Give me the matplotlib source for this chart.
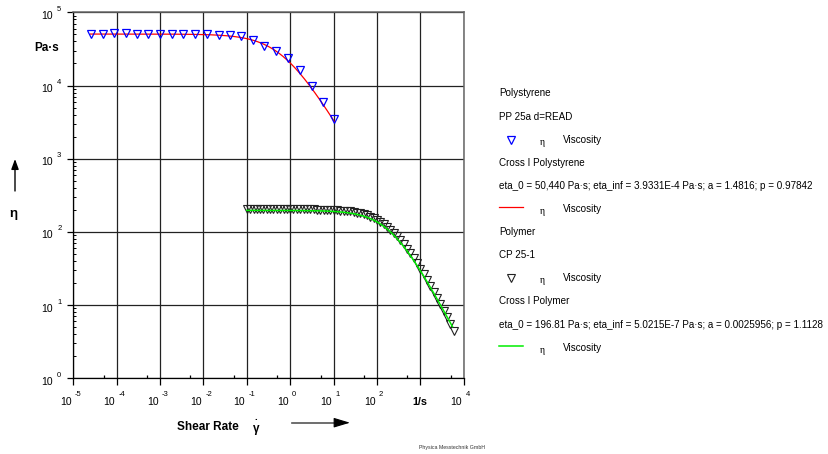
import numpy as np
import matplotlib.pyplot as plt

plt.rcParams['font.family'] = ['Liberation Sans', 'DejaVu Sans']

# Polystyrene, PP 25a (shear rate 1/s, viscosity Pa*s)
ps_rate = [2.51e-5, 4.75e-5, 8.8e-5, 1.64e-4, 2.94e-4, 5.36e-4, 1.01e-3, 1.85e-3,
           3.43e-3, 6.47e-3, 0.0121, 0.0223, 0.0408, 0.0731, 0.136, 0.252, 0.469,
           0.885, 1.67, 3.10, 5.57, 10.5]
ps_eta = [51000, 51000, 52200, 52200, 51000, 51000, 51000, 51000, 51000, 50100,
          50100, 49500, 48500, 47000, 42300, 35000, 29400, 23600, 16300, 9880,
          6030, 3470]

# Polymer, CP 25-1
pm_rate = [0.100, 0.119, 0.143, 0.170, 0.203, 0.242, 0.289, 0.346, 0.412, 0.492,
           0.588, 0.702, 0.838,
           1.00, 1.19, 1.43, 1.70, 2.03, 2.42, 2.89, 3.46, 4.12, 4.92, 5.88, 7.02, 8.38,
           10.0, 11.9, 14.3, 17.0, 20.3, 24.2, 28.9, 34.6, 41.2, 49.2, 58.8, 70.2, 83.8,
           100, 119, 143, 170, 203, 242, 289, 346, 412, 492, 588, 702, 838,
           1000, 1190, 1430, 1700, 2030, 2420, 2890, 3460, 4120, 4920, 5880]
pm_eta = [206, 206, 205, 206, 205, 205, 206, 205, 205, 205, 204, 205, 204,
          204, 204, 204, 204, 203, 203, 203, 203, 202, 201, 201, 200, 199,
          198, 197, 196, 194, 192, 190, 187, 183, 179, 174, 168, 161, 154,
          146, 137, 127, 117, 107, 97, 87, 77, 67.5, 58.8, 50.8, 43.6, 37.2,
          31.5, 26.5, 22.2, 18.5, 15.3, 12.6, 10.3, 8.4, 6.8, 5.5, 4.4]

# Cross I fit results: eta_0, eta_inf, a, p
ps_fit = (50440.0, 3.9331e-4, 1.4816, 0.97842)
pm_fit = (196.81, 5.0215e-7, 0.0025956, 1.1128)

x_exps = list(range(-5, 5))
y_exps = list(range(0, 6))


def cross(rate, eta0, eta_inf, a, p):
    return eta_inf + (eta0 - eta_inf) / (1.0 + a * rate ** p)


def sci(v):
    m, e = f'{v:.4E}'.split('E')
    return f'{m}E{int(e)}'


def fit_text(eta0, eta_inf, a, p):
    return (f'eta_0 = {eta0:,.5g} Pa\u00b7s; eta_inf = {sci(eta_inf)} Pa\u00b7s; '
            f'a = {a:g}; p = {p:g}')


W, H = 829, 454
fig = plt.figure(figsize=(W / 100, H / 100), dpi=100)
ax = fig.add_axes([73.3 / W, 1 - 378.3 / H, 390.4 / W, 366 / H])
ax.set_xscale('log')
ax.set_yscale('log')
ax.set_xlim(1e-5, 1e4)
ax.set_ylim(1, 1e5)

ax.set_xticks([10.0 ** e for e in x_exps])
ax.set_xticks([5 * 10.0 ** e for e in x_exps[:-1]], minor=True)
ax.set_yticks([10.0 ** e for e in y_exps])
ax.set_yticks([k * 10.0 ** e for e in y_exps[:-1] for k in range(2, 10)], minor=True)
ax.tick_params(which='both', labelbottom=False, labelleft=False)
ax.tick_params(axis='x', which='major', direction='out', length=5, width=0.9)
ax.tick_params(axis='x', which='minor', direction='in', length=2.2, width=0.9)
ax.tick_params(axis='y', which='major', direction='out', length=4, width=0.9)
ax.tick_params(axis='y', which='minor', direction='in', length=2.5, width=0.7)
ax.grid(True, which='major', color='#222222', lw=0.9, zorder=1)
ax.set_axisbelow(True)
for side in ('top', 'right'):
    ax.spines[side].set_color('#666666')
    ax.spines[side].set_linewidth(1.1)
for side in ('left', 'bottom'):
    ax.spines[side].set_linewidth(0.9)

# fitted curves and measured points
r = np.logspace(np.log10(ps_rate[0]), np.log10(ps_rate[-1]), 300)
ax.plot(r, cross(r, *ps_fit), color='#ff0000', lw=0.9, zorder=3)
ax.plot(ps_rate, ps_eta, 'v', ms=5.8, mfc='none', mec='#0000ff', mew=0.9, zorder=4)

ax.plot(pm_rate, pm_eta, 'v', ms=5.8, mfc='none', mec='#222222', mew=0.8, zorder=3)
r = np.logspace(np.log10(pm_rate[0]), np.log10(5500), 300)
ax.plot(r, cross(r, *pm_fit), color='#00ee00', lw=1.1, zorder=4)

# decade tick labels, "10" with raised exponent
for e in x_exps:
    if e == 3:
        ax.annotate('1/s', xy=(10.0 ** e, 0), xycoords=('data', 'axes fraction'),
                    xytext=(0, -23.5), textcoords='offset pixels', ha='center',
                    va='center', fontsize=7.8, fontweight='bold')
        continue
    ax.annotate('10', xy=(10.0 ** e, 0), xycoords=('data', 'axes fraction'),
                xytext=(-1.5, -23.5), textcoords='offset pixels', ha='right',
                va='center', fontsize=7.5)
    ax.annotate(str(e), xy=(10.0 ** e, 0), xycoords=('data', 'axes fraction'),
                xytext=(1.8, -16.5), textcoords='offset pixels', ha='left',
                va='center', fontsize=5.5)
for e in y_exps:
    ax.annotate('10', xy=(0, 10.0 ** e), xycoords=('axes fraction', 'data'),
                xytext=(-20, -3.5), textcoords='offset pixels', ha='right',
                va='center', fontsize=7.5)
    ax.annotate(str(e), xy=(0, 10.0 ** e), xycoords=('axes fraction', 'data'),
                xytext=(-16.2, 3), textcoords='offset pixels', ha='left',
                va='center', fontsize=5.5)

# overlay in pixel units for titles, arrows and the legend
ov = fig.add_axes([0, 0, 1, 1], zorder=5)
ov.set_xlim(0, W)
ov.set_ylim(H, 0)
ov.axis('off')

ov.text(47, 48, 'Pa\u00b7s', ha='center', va='center', fontsize=8.5, fontweight='bold')
ov.text(13.5, 214, '\u03b7', ha='center', va='center', fontsize=9.5, fontweight='bold')
ov.annotate('', xy=(15, 159), xytext=(15, 191),
            arrowprops=dict(arrowstyle='-|>,head_length=0.6,head_width=0.22',
                            color='black', lw=1.0, mutation_scale=10,
                            shrinkA=0, shrinkB=0))
ov.text(207.5, 427, 'Shear Rate', ha='center', va='center', fontsize=8.5,
        fontweight='bold')
ov.text(256, 429, '\u03b3', ha='center', va='center', fontsize=8.5, fontweight='bold')
ov.text(256, 416.5, '.', ha='center', va='center', fontsize=7, fontweight='bold')
ov.plot([291.7, 338], [422.7, 422.7], color='#555555', lw=1.2)
ov.annotate('', xy=(350, 422.7), xytext=(336, 422.7),
            arrowprops=dict(arrowstyle='-|>,head_length=1.0,head_width=0.3',
                            color='black', lw=0.8, mutation_scale=10,
                            shrinkA=0, shrinkB=0))
ov.text(452, 448, 'Physica Messtechnik GmbH', ha='center', va='center',
        fontsize=3.8, color='#333333')

# legend block
lx = 499.3
row_y = [93.5 + 23.1 * i for i in range(12)]
fs = 7.1


def eta_entry(y):
    ov.text(542.7, y + 2.5, '\u03b7', ha='center', va='center', fontsize=fs,
            family=['Liberation Serif', 'DejaVu Serif'])
    ov.text(563.3, y, 'Viscosity', ha='left', va='center', fontsize=fs)


ov.text(lx, row_y[0], 'Polystyrene', va='center', fontsize=fs)
ov.text(lx, row_y[1], 'PP 25a d=READ', va='center', fontsize=fs)
ov.plot([510.7], [row_y[2]], 'v', ms=5.8, mfc='none', mec='#0000ff', mew=0.9)
eta_entry(row_y[2])
ov.text(lx, row_y[3], 'Cross I Polystyrene', va='center', fontsize=fs)
ov.text(lx, row_y[4], fit_text(*ps_fit), va='center', fontsize=fs)
ov.plot([lx, 523.3], [row_y[5] - 2, row_y[5] - 2], color='#ff0000', lw=0.9)
eta_entry(row_y[5])
ov.text(lx, row_y[6], 'Polymer', va='center', fontsize=fs)
ov.text(lx, row_y[7], 'CP 25-1', va='center', fontsize=fs)
ov.plot([510.7], [row_y[8]], 'v', ms=5.8, mfc='none', mec='#222222', mew=0.8)
eta_entry(row_y[8])
ov.text(lx, row_y[9], 'Cross I Polymer', va='center', fontsize=fs)
ov.text(lx, row_y[10], fit_text(*pm_fit), va='center', fontsize=fs)
ov.plot([lx, 523.3], [row_y[11] - 2, row_y[11] - 2], color='#00ee00', lw=1.1)
eta_entry(row_y[11])

fig.savefig('out.png', dpi=100)
